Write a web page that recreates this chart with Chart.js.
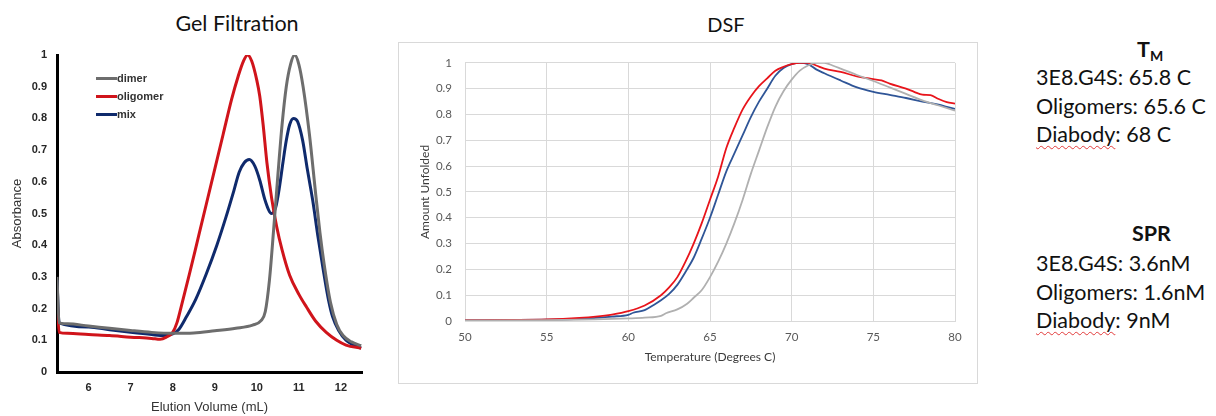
<!DOCTYPE html>
<html>
<head>
<meta charset="utf-8">
<script src="https://cdn.jsdelivr.net/npm/chart.js@4.4.1/dist/chart.umd.min.js"></script>
<style>
    html, body { margin: 0; padding: 0; background: #fff; }
    body { width: 1216px; height: 416px; position: relative; overflow: hidden; font-family: Lato, sans-serif; color: #111; }
    .abs { position: absolute; }
    .chartTitle { font-family: Lato, sans-serif; font-size: 20px; line-height: 24px; white-space: nowrap; transform: translateX(-50%); color: #111; }
    #dsfBox { left: 398px; top: 42px; width: 578px; height: 340px; border: 1px solid #d9d9d9; }
    #gelLegend { left: 96px; top: 69px; font: bold 11px "Liberation Sans", Arial, sans-serif; color: #333; }
    #gelLegend .row { display: flex; align-items: center; height: 18.2px; }
    #gelLegend .swatch { width: 21px; height: 3px; margin-right: 0; }
    .side { font-family: Lato, sans-serif; font-size: 21.5px; line-height: 28.7px; white-space: nowrap; color: #111; }
    .side b { font-weight: bold; }
    .squiggle { text-decoration: underline wavy #e23a3a; text-decoration-thickness: 1px; text-underline-offset: 3px; }
</style>
</head>
<body>

<div class="abs chartTitle" style="left:237px; top:11px; font-size:21.5px;">Gel Filtration</div>
<div class="abs chartTitle" style="left:726px; top:12px;">DSF</div>

<div class="abs" style="left:0; top:0;"><canvas id="gelChart" width="380" height="416"></canvas></div>
<div class="abs" id="gelLegend"></div>

<div class="abs" id="dsfBox"><canvas id="dsfChart" width="578" height="340"></canvas></div>

<div class="abs side" style="left:1137px; top:35px;"><b>T<sub style="font-size:14px; vertical-align:-4px;">M</sub></b></div>
<div class="abs side" style="left:1036px; top:63px;">
    <div>3E8.G4S: 65.8 C</div>
    <div>Oligomers: 65.6 C</div>
    <div><span class="squiggle">Diabody</span>: 68 C</div>
</div>
<div class="abs side" style="left:1132px; top:219px;"><b>SPR</b></div>
<div class="abs side" style="left:1036px; top:249px;">
    <div>3E8.G4S: 3.6nM</div>
    <div>Oligomers: 1.6nM</div>
    <div><span class="squiggle">Diabody</span>: 9nM</div>
</div>

<script>
(function () {
    'use strict';

    // ---- Gel filtration data (elution volume in mL, absorbance) ----
    const gelLabels = ['dimer', 'oligomer', 'mix'];
    const gelColors = ['#6d6d6d', '#d0141b', '#0f2a6c'];

    const dimerVol = [5.25, 5.3, 5.5, 6, 6.5, 7, 7.5, 8, 8.5, 9, 9.5, 9.9, 10.1, 10.2, 10.3, 10.4, 10.5, 10.6, 10.7, 10.8, 10.9, 11.0, 11.1, 11.25, 11.4, 11.5, 11.6, 11.75, 11.9, 12.05, 12.25, 12.48];
    const dimerAbs = [0.30, 0.155, 0.152, 0.145, 0.138, 0.131, 0.125, 0.122, 0.123, 0.130, 0.138, 0.148, 0.162, 0.19, 0.29, 0.45, 0.62, 0.78, 0.90, 0.97, 1.0, 0.97, 0.90, 0.75, 0.56, 0.44, 0.34, 0.22, 0.15, 0.115, 0.095, 0.083];

    const oligoVol = [5.25, 5.3, 5.5, 6, 6.5, 7, 7.5, 7.7, 7.85, 8.0, 8.1, 8.2, 8.4, 8.6, 8.8, 9.0, 9.2, 9.4, 9.55, 9.68, 9.78, 9.88, 10.0, 10.07, 10.15, 10.24, 10.35, 10.47, 10.6, 10.78, 11.0, 11.18, 11.4, 11.65, 11.9, 12.12, 12.48];
    const oligoAbs = [0.24, 0.125, 0.122, 0.118, 0.115, 0.11, 0.106, 0.103, 0.11, 0.125, 0.155, 0.205, 0.31, 0.42, 0.53, 0.64, 0.75, 0.86, 0.93, 0.98, 1.0, 0.98, 0.92, 0.87, 0.78, 0.66, 0.55, 0.46, 0.385, 0.305, 0.245, 0.205, 0.16, 0.125, 0.10, 0.085, 0.075];

    const mixVol = [5.25, 5.3, 6, 6.5, 7, 7.5, 7.8, 8.0, 8.15, 8.33, 8.55, 8.8, 9.05, 9.27, 9.45, 9.58, 9.7, 9.82, 9.95, 10.07, 10.2, 10.35, 10.45, 10.54, 10.62, 10.7, 10.78, 10.87, 10.97, 11.09, 11.2, 11.33, 11.45, 11.57, 11.7, 11.8, 11.95, 12.12, 12.3, 12.48];
    const mixAbs = [0.29, 0.155, 0.142, 0.133, 0.125, 0.118, 0.115, 0.12, 0.135, 0.175, 0.23, 0.31, 0.40, 0.49, 0.57, 0.63, 0.66, 0.67, 0.65, 0.605, 0.54, 0.50, 0.52, 0.585, 0.66, 0.73, 0.78, 0.80, 0.79, 0.73, 0.64, 0.54, 0.43, 0.33, 0.23, 0.175, 0.13, 0.10, 0.085, 0.075];

    const gelXTicks = [6, 7, 8, 9, 10, 11, 12];
    const gelYTicks = [0, 0.1, 0.2, 0.3, 0.4, 0.5, 0.6, 0.7, 0.8, 0.9, 1];

    // ---- DSF data (temperature in C, fraction unfolded) ----
    const dsfLabels = ['3E8.G4S', 'Oligomers', 'Diabody'];
    const dsfColors = ['#2f5597', '#e8141b', '#b0b0b0'];

    const oligoTemp = [50, 53, 55, 57, 58, 59, 60, 61, 62, 62.5, 63, 63.5, 64, 64.5, 65, 65.5, 66, 66.5, 67, 67.5, 68, 68.5, 69, 69.5, 70, 70.5, 71, 71.5, 72, 73, 74, 75, 75.5, 76, 77, 77.5, 78, 78.5, 79, 79.5, 80];
    const oligoUnf = [0.003, 0.004, 0.006, 0.012, 0.017, 0.025, 0.038, 0.06, 0.10, 0.13, 0.17, 0.23, 0.30, 0.38, 0.47, 0.56, 0.67, 0.75, 0.82, 0.87, 0.91, 0.94, 0.97, 0.985, 0.995, 1.0, 1.0, 0.99, 0.978, 0.965, 0.948, 0.937, 0.932, 0.92, 0.90, 0.888, 0.877, 0.875, 0.86, 0.848, 0.842];

    const g4sTemp = [50, 55, 57, 58, 59, 60, 60.3, 61, 61.5, 62, 62.5, 63, 63.5, 64, 64.5, 65, 65.5, 66, 66.5, 67, 67.5, 68, 68.5, 69, 69.5, 70, 70.5, 71, 71.5, 72, 73, 74, 75, 76, 77, 78, 79, 79.5, 80];
    const g4sUnf = [0.003, 0.005, 0.008, 0.012, 0.017, 0.024, 0.032, 0.042, 0.06, 0.08, 0.105, 0.14, 0.19, 0.245, 0.32, 0.40, 0.49, 0.58, 0.65, 0.72, 0.79, 0.85, 0.90, 0.95, 0.98, 0.995, 1.0, 0.995, 0.975, 0.96, 0.932, 0.905, 0.888, 0.876, 0.864, 0.85, 0.838, 0.83, 0.822];

    const diaTemp = [50, 55, 58, 60, 61, 62, 62.3, 63, 63.6, 64, 64.5, 65, 65.5, 66, 66.5, 67, 67.5, 68, 68.5, 69, 69.5, 70, 70.5, 71, 71.5, 72, 72.5, 73, 74, 75, 76, 77, 78, 79, 80];
    const diaUnf = [0.002, 0.003, 0.006, 0.01, 0.013, 0.02, 0.03, 0.045, 0.067, 0.09, 0.12, 0.17, 0.23, 0.30, 0.38, 0.47, 0.57, 0.66, 0.75, 0.83, 0.89, 0.935, 0.97, 0.99, 1.0, 1.0, 0.99, 0.978, 0.953, 0.93, 0.905, 0.88, 0.855, 0.835, 0.815];

    const dsfXTicks = [50, 55, 60, 65, 70, 75, 80];
    const dsfYTicks = [0, 0.1, 0.2, 0.3, 0.4, 0.5, 0.6, 0.7, 0.8, 0.9, 1];

    function toPoints(xs, ys) {
        return xs.map(function (x, i) { return { x: x, y: ys[i] }; });
    }

    function setTicks(values) {
        return function (scale) {
            scale.ticks = values.map(function (v) { return { value: v }; });
        };
    }

    function fixSize(prop, size) {
        return function (scale) { scale[prop] = size; };
    }

    // ---- Gel filtration chart ----
    const gelSeries = [[dimerVol, dimerAbs], [oligoVol, oligoAbs], [mixVol, mixAbs]];
    const arialBold = { family: '"Liberation Sans", Arial, sans-serif', size: 11, weight: 'bold' };
    const arial = { family: '"Liberation Sans", Arial, sans-serif', size: 13 };

    new Chart(document.getElementById('gelChart'), {
        type: 'line',
        data: {
            datasets: gelSeries.map(function (s, i) {
                return {
                    label: gelLabels[i],
                    data: toPoints(s[0], s[1]),
                    borderColor: gelColors[i],
                    borderWidth: 3,
                    pointRadius: 0,
                    cubicInterpolationMode: 'monotone',
                    fill: false
                };
            })
        },
        options: {
            responsive: false,
            animation: false,
            layout: { padding: { top: 55, right: 18, left: 0, bottom: 0 } },
            plugins: { legend: { display: false }, tooltip: { enabled: false } },
            scales: {
                x: {
                    type: 'linear',
                    min: 5.25,
                    max: 12.5,
                    afterBuildTicks: setTicks(gelXTicks),
                    afterFit: fixSize('height', 44),
                    grid: { display: false, drawTicks: false },
                    border: { display: true, color: '#000', width: 3 },
                    ticks: { color: '#262626', font: arialBold, padding: 9, maxRotation: 0 },
                    title: { display: true, text: 'Elution Volume (mL)', color: '#333', font: arial, padding: { top: 0, bottom: 1 } }
                },
                y: {
                    min: 0,
                    max: 1,
                    afterBuildTicks: setTicks(gelYTicks),
                    afterFit: fixSize('width', 57),
                    grid: { display: false, drawTicks: false },
                    border: { display: true, color: '#000', width: 3 },
                    ticks: { color: '#262626', font: arialBold, padding: 10, callback: function (v) { return String(v); } },
                    title: { display: true, text: 'Absorbance', color: '#333', font: arial, padding: { top: 10, bottom: 0 } }
                }
            }
        }
    });

    // HTML legend for the gel chart, built from the series names
    const legend = document.getElementById('gelLegend');
    gelLabels.forEach(function (name, i) {
        const row = document.createElement('div');
        row.className = 'row';
        const sw = document.createElement('span');
        sw.className = 'swatch';
        sw.style.background = gelColors[i];
        const txt = document.createElement('span');
        txt.textContent = name;
        row.appendChild(sw);
        row.appendChild(txt);
        legend.appendChild(row);
    });

    // ---- DSF chart ----
    const dsfSeries = [[g4sTemp, g4sUnf], [oligoTemp, oligoUnf], [diaTemp, diaUnf]];
    const tickFont = { family: 'Lato, sans-serif', size: 11.5 };
    const titleFont = { family: 'Lato, sans-serif', size: 12 };
    const gridColor = '#d9d9d9';

    new Chart(document.getElementById('dsfChart'), {
        type: 'line',
        data: {
            datasets: dsfSeries.map(function (s, i) {
                return {
                    label: dsfLabels[i],
                    data: toPoints(s[0], s[1]),
                    borderColor: dsfColors[i],
                    borderWidth: 1.8,
                    pointRadius: 0,
                    cubicInterpolationMode: 'monotone',
                    fill: false
                };
            }).reverse()
        },
        options: {
            responsive: false,
            animation: false,
            layout: { padding: { top: 14, right: 22, left: 0, bottom: 0 } },
            plugins: { legend: { display: false }, tooltip: { enabled: false } },
            scales: {
                x: {
                    type: 'linear',
                    min: 50,
                    max: 80,
                    afterBuildTicks: setTicks(dsfXTicks),
                    afterFit: fixSize('height', 62),
                    grid: { color: gridColor, drawTicks: false },
                    border: { color: gridColor },
                    ticks: { color: '#595959', font: tickFont, padding: 9, maxRotation: 0 },
                    title: { display: true, text: 'Temperature (Degrees C)', color: '#3a3a3a', font: titleFont, padding: { top: 0, bottom: 19 } }
                },
                y: {
                    min: 0,
                    max: 1,
                    afterBuildTicks: setTicks(dsfYTicks),
                    afterFit: fixSize('width', 66),
                    grid: { color: gridColor, drawTicks: false },
                    border: { color: gridColor },
                    ticks: { color: '#595959', font: tickFont, padding: 13, callback: function (v) { return String(v); } },
                    title: { display: true, text: 'Amount Unfolded', color: '#3a3a3a', font: titleFont, padding: { top: 19, bottom: 0 } }
                }
            }
        }
    });
})();
</script>
</body>
</html>
